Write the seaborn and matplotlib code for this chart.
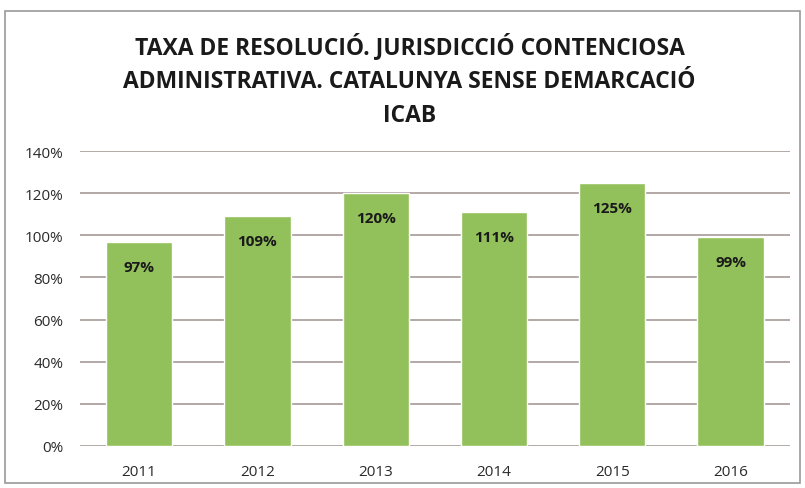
import matplotlib
matplotlib.use("Agg")
import matplotlib.pyplot as plt
import seaborn as sns
import pandas as pd
from matplotlib.patches import Rectangle
from matplotlib.ticker import PercentFormatter

years = ['2011', '2012', '2013', '2014', '2015', '2016']
rates = [0.97, 1.09, 1.20, 1.11, 1.25, 0.99]
labels = ['97%', '109%', '120%', '111%', '125%', '99%']

df = pd.DataFrame({'year': years, 'rate': rates})

sns.set_style("white")
plt.rcParams['font.family'] = ['Open Sans', 'DejaVu Sans']

fig = plt.figure(figsize=(8.05, 4.89), dpi=100)
ax = fig.add_axes([0.0994, 0.0859, 0.8816, 0.603])

sns.barplot(data=df, x='year', y='rate', color='#92c05a', width=0.56,
            saturation=1, ax=ax, zorder=3)

ax.set_ylim(0, 1.4)
ax.set_yticks([i / 10 for i in range(0, 15, 2)])
ax.yaxis.set_major_formatter(PercentFormatter(1.0, decimals=0))
ax.grid(axis='y', color='#a59a96', linewidth=1.2, zorder=0)
ax.set_axisbelow(True)
for s in ax.spines.values():
    s.set_visible(False)
ax.set_xlabel('')
ax.set_ylabel('')
ax.tick_params(axis='both', length=0, labelsize=11, colors='#2a2a2a')
ax.tick_params(axis='y', pad=12)
ax.tick_params(axis='x', pad=13)

# data labels inside the top of each bar
for i, (v, lab) in enumerate(zip(rates, labels)):
    ax.annotate(lab, xy=(i, v), xytext=(0, -18), textcoords='offset points',
                ha='center', va='center', fontsize=11, fontweight='bold',
                color='#1a1a1a', zorder=4)

fig.text(0.509, 0.836,
         "TAXA DE RESOLUCIÓ. JURISDICCIÓ CONTENCIOSA\n"
         "ADMINISTRATIVA. CATALUNYA SENSE DEMARCACIÓ\nICAB",
         ha='center', va='center', fontsize=16.5, fontweight='bold',
         color='#1a1a1a', linespacing=1.55)

# chart frame
fig.patches.append(Rectangle((0.006, 0.01), 0.988, 0.965, transform=fig.transFigure,
                             fill=False, edgecolor='#9a9a9a', linewidth=1.2))

fig.savefig('out.png', dpi=100)
